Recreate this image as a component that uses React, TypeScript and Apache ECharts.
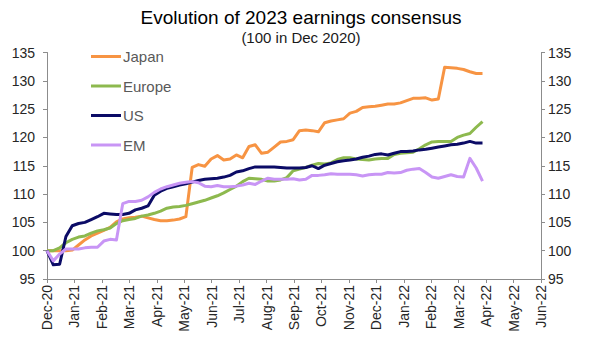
import { useEffect, useRef } from "react";
import * as echarts from "echarts";

const tickLabels = [
  "Dec-20", "Jan-21", "Feb-21", "Mar-21", "Apr-21", "May-21", "Jun-21", "Jul-21", "Aug-21",
  "Sep-21", "Oct-21", "Nov-21", "Dec-21", "Jan-22", "Feb-22", "Mar-22", "Apr-22", "May-22", "Jun-22",
];

const seriesNames = ["Japan", "Europe", "US", "EM"];

const japan = [
  100.0, 100.0, 100.0, 100.0, 100.1, 101.0, 101.9, 102.6, 103.1, 103.6,
  104.1, 105.1, 105.6, 105.8, 105.9, 106.1, 105.8, 105.5, 105.3, 105.3,
  105.4, 105.6, 106.0, 114.7, 115.2, 114.9, 116.2, 116.8, 116.0, 116.2,
  116.9, 116.4, 118.4, 118.7, 117.2, 117.4, 118.3, 119.2, 119.3, 119.6,
  121.2, 121.3, 121.2, 121.0, 122.6, 122.9, 123.1, 123.3, 124.3, 124.6,
  125.3, 125.4, 125.5, 125.7, 125.9, 125.9, 126.1, 126.5, 126.9, 126.9,
  127.0, 126.6, 126.8, 132.4, 132.3, 132.2, 132.0, 131.6, 131.3, 131.3,
];

const europe = [
  100.0, 100.0, 100.5, 101.4, 102.0, 102.4, 102.6, 103.1, 103.5, 103.7,
  104.0, 104.8, 105.3, 105.5, 105.7, 106.1, 106.3, 106.6, 107.0, 107.5,
  107.7, 107.8, 108.0, 108.3, 108.6, 108.9, 109.3, 109.7, 110.2, 110.8,
  111.4, 112.2, 112.8, 112.7, 112.6, 112.3, 112.3, 112.5, 112.9, 114.1,
  114.4, 114.7, 115.1, 115.4, 115.3, 115.5, 116.1, 116.4, 116.4, 116.2,
  116.1, 116.0, 116.2, 116.3, 116.3, 117.0, 117.2, 117.3, 117.4, 118.0,
  118.7, 119.2, 119.3, 119.3, 119.3, 120.0, 120.4, 120.7, 121.8, 122.8,
];

const us = [
  100.0, 97.5, 97.6, 102.5, 104.4, 104.8, 105.0, 105.5, 106.0, 106.6,
  106.5, 106.4, 106.4, 106.6, 107.2, 107.5, 107.9, 109.8, 110.5, 111.0,
  111.3, 111.6, 111.8, 112.1, 112.4, 112.6, 112.7, 112.8, 113.0, 113.3,
  113.9, 114.1, 114.5, 114.8, 114.8, 114.8, 114.8, 114.7, 114.6, 114.6,
  114.6, 114.7, 115.0, 114.5, 115.1, 115.4, 115.7, 115.9, 116.0, 116.2,
  116.5, 116.7, 117.0, 117.1, 116.9, 117.2, 117.5, 117.5, 117.6, 117.8,
  117.9, 118.1, 118.3, 118.5, 118.7, 118.8, 119.0, 119.3, 119.0, 119.0,
];

const em = [
  100.0, 98.2, 99.4, 100.3, 100.3, 100.3, 100.5, 100.6, 100.6, 101.7,
  102.0, 101.9, 108.3, 108.7, 108.7, 108.9, 109.5, 110.3, 110.9, 111.3,
  111.6, 111.9, 112.1, 112.2, 112.0, 111.4, 111.3, 111.5, 111.3, 111.3,
  111.4, 111.6, 111.9, 111.7, 112.3, 112.8, 112.6, 112.6, 112.6, 112.7,
  112.5, 112.6, 113.3, 113.3, 113.4, 113.6, 113.5, 113.5, 113.5, 113.4,
  113.2, 113.4, 113.5, 113.5, 113.8, 113.7, 113.8, 114.2, 114.4, 114.5,
  113.8, 113.0, 112.8, 113.1, 113.4, 113.1, 113.0, 116.3, 114.6, 112.3,
];

const colors = ["#F79443", "#8DB94E", "#0B0B66", "#C895F5"];

// weekly observation dates starting 1 Dec 2020
const startMs = Date.UTC(2020, 11, 1);
const weekDates = japan.map((_, i) => new Date(startMs + i * 7 * 86400000).toISOString().slice(0, 10));
const monthOffset = (d: string) => (Date.parse(d) - startMs) / 86400000 / 30.4375;

const FONT = "'Liberation Sans', Arial, sans-serif";

export default function App() {
  const ref = useRef<HTMLDivElement>(null);
  useEffect(() => {
    if (!ref.current) return;
    const chart = echarts.init(ref.current, undefined, { renderer: "svg" });
    const all = [japan, europe, us, em];
    const yAxisBase = {
      type: "value" as const,
      min: 95,
      max: 135,
      interval: 5,
      splitLine: { show: false },
      axisLine: { show: true, lineStyle: { color: "#8C8C8C", width: 1 } },
      axisTick: { show: true, length: 4, lineStyle: { color: "#8C8C8C" } },
    };
    const labelBase = { color: "#262626", fontSize: 14, fontFamily: FONT };
    chart.setOption({
      animation: false,
      textStyle: { fontFamily: FONT },
      title: {
        text: "Evolution of 2023 earnings consensus",
        subtext: "(100 in Dec 2020)",
        left: "center",
        top: 3,
        itemGap: 3,
        textStyle: { fontSize: 19, fontWeight: "normal", color: "#000", fontFamily: FONT },
        subtextStyle: { fontSize: 15, color: "#1a1a1a", fontFamily: FONT },
      },
      legend: {
        orient: "vertical",
        left: 86,
        top: 44,
        itemWidth: 30,
        itemHeight: 3,
        itemGap: 14.5,
        icon: "rect",
        data: seriesNames,
        textStyle: { color: "#595959", fontSize: 15, fontFamily: FONT, padding: [0, 0, 0, -3] },
      },
      grid: { left: 47, right: 61, top: 52.5, bottom: 78 },
      xAxis: {
        type: "value",
        min: 0,
        max: 18,
        interval: 1,
        splitLine: { show: false },
        axisLine: { show: true, lineStyle: { color: "#8C8C8C", width: 1 } },
        axisTick: { show: true, length: 4, lineStyle: { color: "#8C8C8C" } },
        axisLabel: {
          ...labelBase,
          rotate: 90,
          margin: 6,
          formatter: (v: number) => tickLabels[Math.round(v)] ?? "",
        },
      },
      yAxis: [
        { ...yAxisBase, position: "left", axisLabel: { ...labelBase, margin: 12 } },
        { ...yAxisBase, position: "right", axisLabel: { ...labelBase, margin: 7 } },
      ],
      series: seriesNames.map((name, k) => ({
        name,
        type: "line",
        showSymbol: false,
        symbol: "none",
        color: colors[k],
        lineStyle: { width: 3, color: colors[k], join: "round" },
        data: weekDates.map((d, i) => [monthOffset(d), all[k][i]]),
      })),
    });
    return () => chart.dispose();
  }, []);
  return (
    <div
      ref={ref}
      style={{ position: "absolute", left: 0, top: 0, width: 602, height: 357, background: "#fff" }}
    />
  );
}
